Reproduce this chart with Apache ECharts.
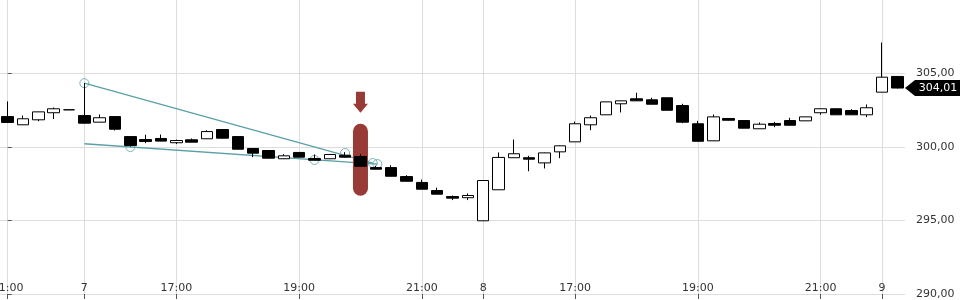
<!DOCTYPE html>
<html><head><meta charset="utf-8">
<script src="https://cdn.jsdelivr.net/npm/echarts@6/dist/echarts.min.js"></script>
<style>html,body{margin:0;padding:0;background:#fff}#c{width:960px;height:300px}</style>
</head><body><div id="c"></div>
<script>
// 15-minute candles, sessions compressed (no overnight gaps)
const categories = [
  '6 21:00','6 21:15','6 21:30','6 21:45','6 22:00',
  '7 15:30','7 15:45','7 16:00','7 16:15','7 16:30','7 16:45','7 17:00','7 17:15','7 17:30','7 17:45',
  '7 18:00','7 18:15','7 18:30','7 18:45','7 19:00','7 19:15','7 19:30','7 19:45','7 20:00','7 20:15',
  '7 20:30','7 20:45','7 21:00','7 21:15','7 21:30','7 21:45',
  '8 15:30','8 15:45','8 16:00','8 16:15','8 16:30','8 16:45','8 17:00','8 17:15','8 17:30','8 17:45',
  '8 18:00','8 18:15','8 18:30','8 18:45','8 19:00','8 19:15','8 19:30','8 19:45','8 20:00','8 20:15',
  '8 20:30','8 20:45','8 21:00','8 21:15','8 21:30','8 21:45',
  '9 15:30','9 15:45'
];
const opens  = [302.07,301.51,301.85,302.33,302.53,302.14,301.69,302.07,300.71,300.51,300.58,300.29,300.49,300.56,301.19,
  300.71,299.90,299.76,299.20,299.63,299.22,299.20,299.44,299.35,298.60,298.60,297.99,297.59,297.04,296.63,296.55,
  294.98,297.09,299.27,299.27,298.92,299.67,300.35,301.51,302.19,302.94,303.28,303.21,303.35,302.82,301.58,300.42,
  301.94,301.80,301.24,301.60,301.80,301.78,302.33,302.60,302.48,302.19,303.73,304.80];
const closes = [301.67,301.92,302.39,302.60,302.53,301.62,301.99,301.21,300.10,300.37,300.40,300.44,300.33,301.05,300.60,
  299.85,299.58,299.24,299.40,299.31,299.10,299.49,299.31,298.69,298.49,298.01,297.67,297.13,296.79,296.52,296.70,
  297.72,299.29,299.54,299.17,299.60,300.08,301.58,301.99,303.07,303.14,303.14,302.91,302.50,301.69,300.39,302.05,
  301.82,301.28,301.55,301.48,301.48,302.05,302.60,302.19,302.19,302.67,304.75,304.01];
const lows   = [301.65,301.50,301.76,301.90,302.52,301.60,301.68,301.12,300.03,300.26,300.38,300.20,300.32,300.55,300.58,
  299.84,299.31,299.22,299.18,299.30,299.08,299.18,299.30,298.68,298.47,298.00,297.65,297.12,296.78,296.39,296.39,
  294.97,297.08,299.26,298.35,298.54,299.24,300.34,301.14,302.18,302.35,303.13,302.90,302.49,301.62,300.38,300.41,
  301.80,301.27,301.23,301.35,301.46,301.77,302.19,302.18,302.18,302.03,303.72,303.98];
const highs  = [303.10,302.14,302.40,302.69,302.55,304.35,302.21,302.08,300.72,300.83,300.85,300.50,300.58,301.14,301.20,
  300.72,299.92,299.77,299.51,299.65,299.49,299.50,299.65,299.52,298.72,298.76,298.08,297.79,297.24,296.70,296.84,
  297.73,299.63,300.51,299.40,299.62,300.10,301.73,302.14,303.08,303.15,303.69,303.35,303.36,302.94,301.78,302.21,
  301.96,301.82,301.67,301.71,301.99,302.06,302.62,302.62,302.57,302.89,307.11,304.80];
const tickLabels = {
  '6 21:00':'21:00','7 15:30':'7','7 17:00':'17:00','7 19:00':'19:00','7 21:00':'21:00',
  '8 15:30':'8','8 17:00':'17:00','8 19:00':'19:00','8 21:00':'21:00','9 15:30':'9'
};
// drawn annotations (x in candle-index units, y in price)
const trendA = [[5,304.34],[23.8,298.91]];
const trendB = [[5,300.22],[24.1,298.84]];
const anchors = [[5,304.34],[8,300.00],[20,299.12],[22,299.59],[23.8,298.91],[24.1,298.84]];
const highlightCategory = '7 20:00';
const highlightLow = 296.68, highlightHigh = 301.58;
const arrowPrice = 303.05;
const lastPrice = closes[closes.length-1];

const fmt = v => v.toFixed(2).replace('.', ',');
const teal = '#5aa0a6', red = '#983a35';
const isTick = (i) => tickLabels[categories[i]] !== undefined;

const ohlc = categories.map((c,i)=>[opens[i],closes[i],lows[i],highs[i]]);
const hlBase = categories.map(c => c===highlightCategory ? highlightLow : '-');
const hlSpan = categories.map(c => c===highlightCategory ? +(highlightHigh-highlightLow).toFixed(2) : '-');

const chart = echarts.init(document.getElementById('c'), null, {renderer:'canvas'});
chart.setOption({
  animation:false,
  textStyle:{fontFamily:'DejaVu Sans'},
  grid:{left:0,right:55,top:0,bottom:6,containLabel:false,outerBoundsMode:'none'},
  xAxis:[{
    type:'category', data:categories, boundaryGap:true,
    axisLine:{show:false},
    axisTick:{show:true, alignWithLabel:true, interval:(i)=>isTick(i), length:5, lineStyle:{color:'#555'}},
    axisLabel:{inside:true, interval:(i)=>isTick(i), formatter:v=>tickLabels[v]||'', fontSize:11, color:'#333', margin:0},
    splitLine:{show:true, alignWithLabel:true, interval:(i)=>isTick(i), lineStyle:{color:'#dddddd'}}
  },{
    type:'value', min:-0.5, max:categories.length-0.5, show:false
  }],
  yAxis:{
    type:'value', position:'right', min:290, max:310, interval:5,
    axisLine:{show:false},
    axisTick:{show:true, length:4, lineStyle:{color:'#555'}},
    axisLabel:{margin:11, fontSize:11, color:'#333', formatter:fmt, showMaxLabel:false},
    splitLine:{lineStyle:{color:'#dddddd'}, showMaxLine:false}
  },
  series:[
    {type:'line', xAxisIndex:1, data:trendA, symbol:'none', lineStyle:{color:teal,width:1.3}, z:1,
     markPoint:{symbol:'path://M0,8 L10,0 L56,0 L56,16 L10,16 Z', symbolSize:[56,16], symbolOffset:['50%',0],
       itemStyle:{color:'#000'},
       label:{show:true, position:'inside', formatter:()=>fmt(lastPrice), color:'#fff', fontSize:11, offset:[5,0]},
       data:[{coord:[categories.length-0.5,lastPrice]}]}},
    {type:'line', xAxisIndex:1, data:trendB, symbol:'none', lineStyle:{color:teal,width:1.3}, z:1},
    {type:'scatter', xAxisIndex:1, data:anchors, symbol:'circle', symbolSize:9,
     itemStyle:{color:'rgba(0,0,0,0)', borderColor:teal, borderWidth:1}, z:1},
    {type:'bar', stack:'hl', data:hlBase, barWidth:15, itemStyle:{color:'rgba(0,0,0,0)'}, z:2, silent:true},
    {type:'bar', stack:'hl', data:hlSpan, barWidth:15, itemStyle:{color:red, borderRadius:7.5}, z:2},
    {type:'candlestick', data:ohlc, barWidth:12, z:3,
     itemStyle:{color:'#ffffff', color0:'#000000', borderColor:'#000000', borderColor0:'#000000', borderWidth:1},
     markPoint:{symbol:'path://M3,0 L12,0 L12,12 L15,12 L7.5,21 L0,12 L3,12 Z', symbolSize:[15,21],
       itemStyle:{color:red}, label:{show:false},
       data:[{coord:[highlightCategory, arrowPrice]}]}}
  ]
});
</script></body></html>
